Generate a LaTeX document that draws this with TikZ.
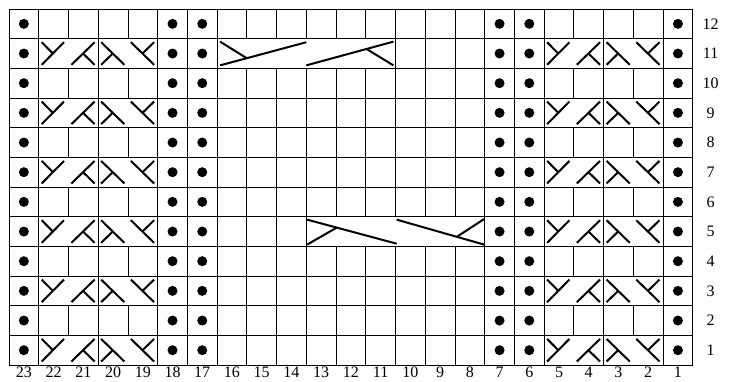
\documentclass[tikz,border=0pt]{standalone}
\usepackage{fontspec}
\setmainfont{Liberation Serif}
\begin{document}
\begin{tikzpicture}[x=29.73pt,y=-29.67pt,
  gridline/.style={line width=0.8pt,black},
  cable/.style={line width=2pt,black},
  lbl/.style={font=\fontsize{16}{16}\selectfont,inner sep=0pt,text depth=0pt}]
\useasboundingbox (-0.3027,-0.3033) rectangle (24.4198,12.5379);
% horizontal grid lines
\foreach \j in {0,...,12} \draw[gridline] (0,\j) -- (23,\j);
% vertical grid lines, full height
\foreach \b in {0,1,3,5,6,7,16,17,18,20,22,23} \draw[gridline] (\b,0) -- (\b,12);
% vertical lines broken by small cables (odd rows)
\foreach \b in {2,4,19,21} \foreach \j in {0,2,...,10} \draw[gridline] (\b,\j) -- (\b,\j+1);
% broken by big cable in row 11
\foreach \b in {8,9,10} {\draw[gridline] (\b,0) -- (\b,1); \draw[gridline] (\b,2) -- (\b,12);}
\foreach \b in {11,12} {\draw[gridline] (\b,0) -- (\b,1); \draw[gridline] (\b,2) -- (\b,7); \draw[gridline] (\b,8) -- (\b,12);}
\foreach \b in {13,14,15} {\draw[gridline] (\b,0) -- (\b,7); \draw[gridline] (\b,8) -- (\b,12);}
% purl dots
\foreach \i in {0,5,6,16,17,22} \foreach \j in {0,...,11} \fill (\i+0.5,\j+0.5) circle[radius=5pt];
% small cables
\foreach \j in {1,3,...,11} \foreach \a in {1,18} {
  \draw[cable] (\a+0.85,\j+0.12) -- (\a+0.1,\j+0.88);
  \draw[cable] (\a+0.1,\j+0.12) -- (\a+0.475,\j+0.5);
  \draw[cable] (\a+1.1,\j+0.88) -- (\a+1.88,\j+0.12);
  \draw[cable] (\a+1.49,\j+0.5) -- (\a+1.88,\j+0.88);
  \draw[cable] (\a+2.1,\j+0.12) -- (\a+2.88,\j+0.88);
  \draw[cable] (\a+2.49,\j+0.5) -- (\a+2.1,\j+0.88);
  \draw[cable] (\a+3.1,\j+0.12) -- (\a+3.88,\j+0.88);
  \draw[cable] (\a+3.88,\j+0.12) -- (\a+3.49,\j+0.5);
}
% big cable, row 11
\draw[cable] (7.1,1.9) -- (10,1.12);
\draw[cable] (7.1,1.1) -- (8.0,1.66);
\draw[cable] (10,1.9) -- (12.93,1.1);
\draw[cable] (12.03,1.35) -- (12.93,1.9);
% big cable, row 5
\draw[cable] (10.03,7.1) -- (13.04,7.91);
\draw[cable] (10.03,7.94) -- (11.02,7.37);
\draw[cable] (13.04,7.1) -- (15.98,7.94);
\draw[cable] (15.06,7.68) -- (15.98,7.08);
% row numbers
\foreach \n in {1,...,12} \node[lbl] (r\n) at (23.6,12.5-\n) {\n};
% column numbers
\foreach \n in {1,...,23} \node[lbl,anchor=base] (c\n) at (23.5-\n,12.43) {\n};
\end{tikzpicture}
\end{document}
